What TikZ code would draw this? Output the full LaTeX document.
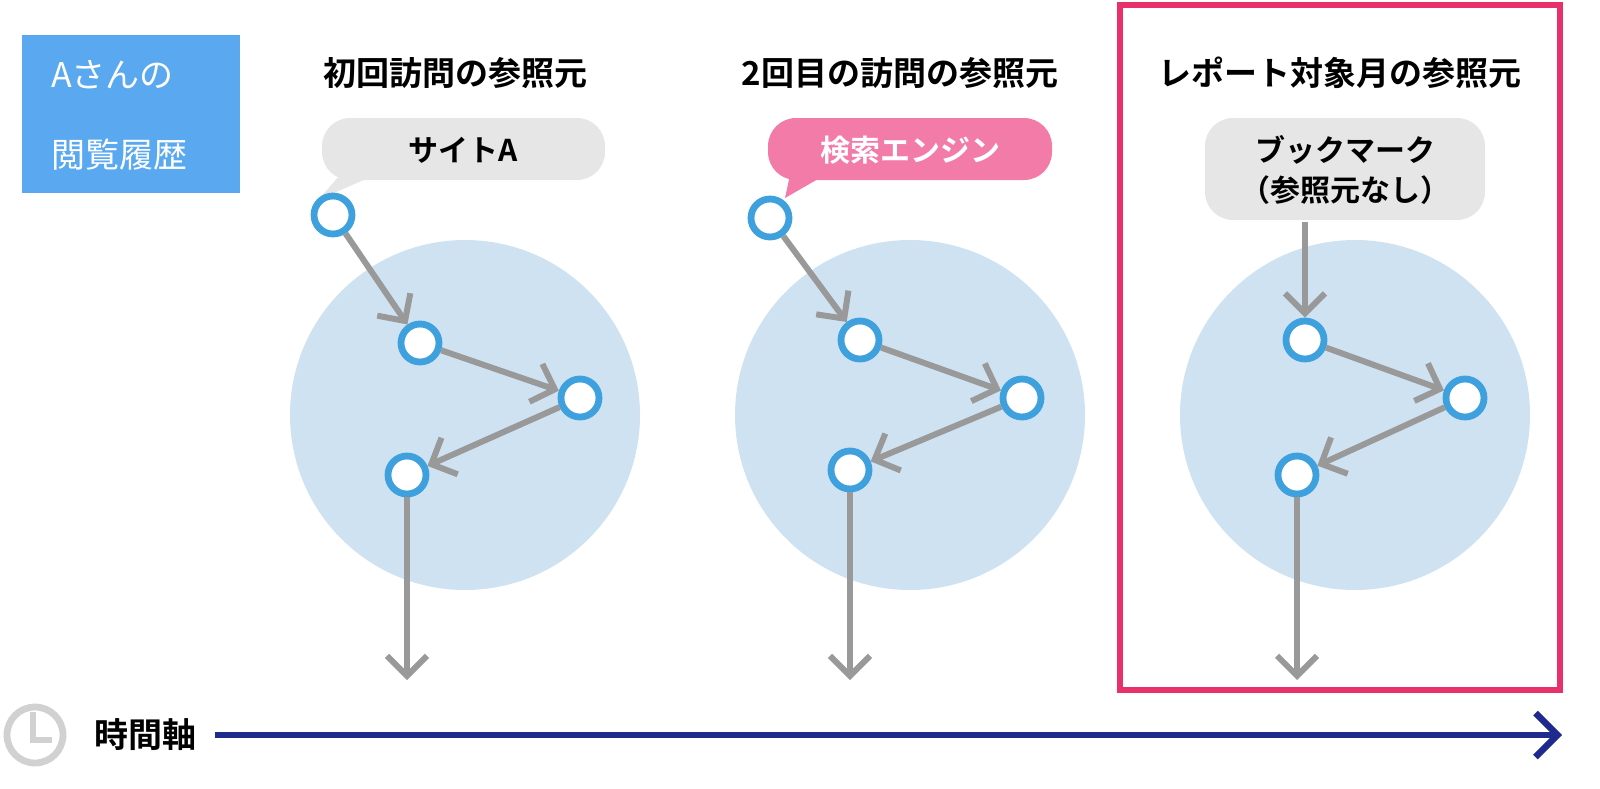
\documentclass[tikz,border=0pt]{standalone}
\usepackage{fontspec}
\newfontfamily\jp{Noto Sans CJK JP}[BoldFont={* Bold}]
\usetikzlibrary{arrows.meta}
\definecolor{boxblue}{HTML}{5AA9F0}
\definecolor{ringblue}{HTML}{3FA0DE}
\definecolor{pagefill}{HTML}{CFE2F2}
\definecolor{bubblegray}{HTML}{E6E6E6}
\definecolor{bubblepink}{HTML}{F27BA8}
\definecolor{framepink}{HTML}{E8306A}
\definecolor{axisnavy}{HTML}{1E2A8C}
\definecolor{flowgray}{HTML}{999999}
\tikzset{
  visit/.style={circle,draw=ringblue,line width=3.4pt,fill=white,minimum size=19pt,inner sep=0pt},
  flow/.style={draw=flowgray,line width=3pt,-{Straight Barb[length=10pt,width=20pt]}},
  title/.style={font=\jp\bfseries\fontsize{16.5}{18}\selectfont},
  bubble/.style={rounded corners=14pt,font=\jp\bfseries\fontsize{15}{20}\selectfont,align=center}
}
\begin{document}
\begin{tikzpicture}[x=0.5pt,y=-0.5pt]
  \useasboundingbox (0,0) rectangle (1600,788);

  % legend box
  \fill[boxblue] (22,35) rectangle (240,193);
  \node[anchor=west,text=white,font=\jp\fontsize{17}{18}\selectfont] (who) at (44,75) {Aさんの};
  \node[anchor=west,text=white,font=\jp\fontsize{17}{18}\selectfont] (hist) at (44,155) {閲覧履歴};

  % titles
  \node[title] (t1) at (455,73) {初回訪問の参照元};
  \node[title] (t2) at (900,73) {2回目の訪問の参照元};
  \node[title] (t3) at (1340,73) {レポート対象月の参照元};

  % pages
  \fill[pagefill] (465,415) circle (175);
  \fill[pagefill] (910,415) circle (175);
  \fill[pagefill] (1355,415) circle (175);

  % bubbles
  \fill[bubblegray] (340,175) -- (318,200) -- (375,175) -- cycle;
  \fill[bubblegray,rounded corners=14pt] (322,118) rectangle (605,180);
  \node[bubble] (b1) at (463,150) {サイトA};
  \fill[bubblepink] (790,175) -- (785,198) -- (825,175) -- cycle;
  \fill[bubblepink,rounded corners=14pt] (768,118) rectangle (1052,180);
  \node[bubble,text=white] (b2) at (910,150) {検索エンジン};
  \fill[bubblegray,rounded corners=14pt] (1205,118) rectangle (1485,220);
  \node[bubble] (b3) at (1345,170) {ブックマーク\\（参照元なし）};
  \coordinate (b3s) at (1305,222);

  % first visit
  \node[visit] (a1) at (333,215) {};
  \node[visit] (a2) at (420,343) {};
  \node[visit] (a3) at (580,398) {};
  \node[visit] (a4) at (407,475) {};
  \coordinate (a5) at (407,680);
  \draw[flow] (a1) -- (a2);
  \draw[flow] (a2) -- (a3);
  \draw[flow] (a3) -- (a4);
  \draw[flow] (a4) -- (a5);

  % second visit
  \node[visit] (c1) at (770,218) {};
  \node[visit] (c2) at (860,340) {};
  \node[visit] (c3) at (1022,398) {};
  \node[visit] (c4) at (850,470) {};
  \coordinate (c5) at (850,680);
  \draw[flow] (c1) -- (c2);
  \draw[flow] (c2) -- (c3);
  \draw[flow] (c3) -- (c4);
  \draw[flow] (c4) -- (c5);

  % report month
  \node[visit] (d2) at (1305,340) {};
  \node[visit] (d3) at (1465,398) {};
  \node[visit] (d4) at (1297,475) {};
  \coordinate (d5) at (1297,680);
  \draw[flow] (b3s) -- (d2);
  \draw[flow] (d2) -- (d3);
  \draw[flow] (d3) -- (d4);
  \draw[flow] (d4) -- (d5);

  \draw[framepink,line width=2.8pt] (1120,5) rectangle (1560,690);

  % time axis
  \draw[black!18,line width=3.4pt] (35,735) circle (28);
  \draw[black!18,line width=3.4pt] (33,712) -- (33,740) -- (52,740);
  \node[title,font=\jp\bfseries\fontsize{17}{18}\selectfont] (axis) at (145,735) {時間軸};
  \coordinate (axs) at (215,735);
  \coordinate (axe) at (1562,735);
  \draw[axisnavy,line width=3.2pt,-{Straight Barb[length=11pt,width=22pt]}] (axs) -- (axe);
\end{tikzpicture}
\end{document}
